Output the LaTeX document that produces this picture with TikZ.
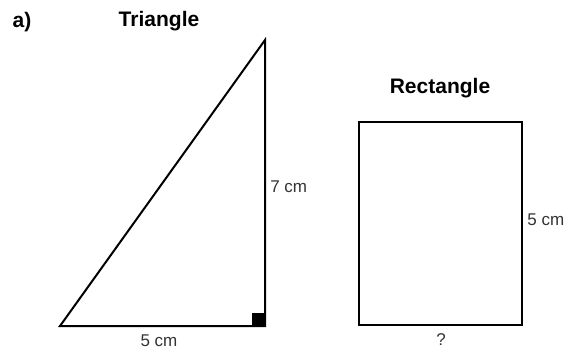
\documentclass[tikz,border=0pt]{standalone}
\usepackage{fontspec}
\setmainfont{Liberation Sans}
\begin{document}
\begin{tikzpicture}[x=1pt,y=-1pt,line width=2pt,
    title/.style={font=\fontsize{21}{21}\selectfont\bfseries},
    size/.style={font=\fontsize{17}{17}\selectfont,text=black!80}]
            \clip (0,0) rectangle (569,354);
            \coordinate (A) at (60,326);
            \coordinate (B) at (265,326);
            \coordinate (C) at (265,40);
            \draw [line join=miter] (A) -- (B) -- (C) -- cycle;
            \fill (252,313) rectangle (B);
            \draw (359,122) rectangle (522,325);
            \path (22,22) node [title] (part) {a)};
            \path (159,21) node [title] (tri) {Triangle};
            \path (440,88) node [title] (rect) {Rectangle};
            \path (159,341) node [size] (base) {5 cm};
            \path (266,187) node [size,anchor=west] (height) {7 cm};
            \path (523,220) node [size,anchor=west] (side) {5 cm};
            \path (441,340) node [size] (width) {?};
        \end{tikzpicture}
\end{document}
